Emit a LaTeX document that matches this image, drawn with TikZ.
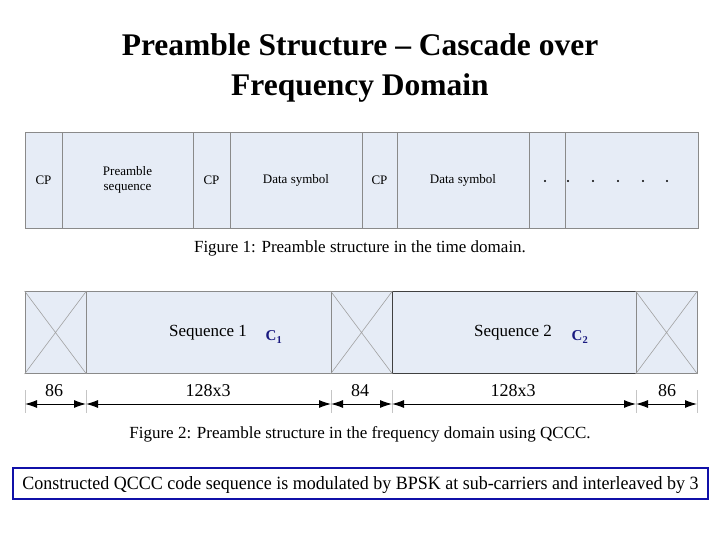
\documentclass[tikz,border=0pt]{standalone}
\usepackage{fontspec}
\setmainfont{Liberation Serif}
\usetikzlibrary{arrows.meta}
\definecolor{cellfill}{HTML}{E6ECF6}
\definecolor{cellline}{HTML}{8A8A8A}
\definecolor{navy}{HTML}{1A1A80}
\definecolor{boxblue}{HTML}{1010A8}
\tikzset{
  cell/.style={draw=cellline, fill=cellfill, line width=0.8pt, inner sep=0pt, font=\fontsize{13}{15}\selectfont},
  xline/.style={draw=cellline!80, line width=0.6pt},
  tick/.style={draw=cellline!50, line width=0.8pt},
  dim/.style={line width=1pt, {Latex[length=12pt,width=8pt]}-{Latex[length=12pt,width=8pt]}},
  dimlabel/.style={font=\fontsize{18}{20}\selectfont, inner sep=0pt},
  caption/.style={font=\fontsize{17}{19}\selectfont, inner sep=0pt},
  seqlabel/.style={font=\fontsize{17}{19}\selectfont, inner sep=0pt},
  clabel/.style={font=\fontsize{15}{17}\selectfont\bfseries, text=navy, inner sep=0pt},
  titlestyle/.style={font=\fontsize{31.5}{36}\selectfont\bfseries, inner sep=0pt, anchor=base},
  dotmark/.style={circle, fill=black, inner sep=0pt, minimum size=2.4pt},
}
\begin{document}
\begin{tikzpicture}[x=1pt,y=-1pt]
\useasboundingbox (0,0) rectangle (720,540);
% Title
\node[titlestyle] (title1) at (360,56) {Preamble Structure -- Cascade over};
\node[titlestyle] (title2) at (360,96) {Frequency Domain};

% Time domain figure
\node[cell, minimum width=37pt, minimum height=96pt] (cpa) at (43.5,180) {CP};
\node[cell, minimum width=131pt, minimum height=96pt, align=center] (pre) at (127.5,180) {Preamble\\sequence};
\node[cell, minimum width=37pt, minimum height=96pt] (cpb) at (211.5,180) {CP};
\node[cell, minimum width=132pt, minimum height=96pt] (data1) at (296,180) {Data symbol};
\node[cell, minimum width=35pt, minimum height=96pt] (cpc) at (379.5,180) {CP};
\node[cell, minimum width=132pt, minimum height=96pt] (data2) at (463,180) {Data symbol};
\node[cell, minimum width=36pt, minimum height=96pt] (gap) at (547,180) {};
\node[cell, minimum width=133pt, minimum height=96pt] (rest) at (631.5,180) {};
\node[dotmark] (d0) at (545,181) {};
\node[dotmark] (d1) at (568,181) {};
\node[dotmark] (d2) at (593,181) {};
\node[dotmark] (d3) at (618,181) {};
\node[dotmark] (d4) at (643,181) {};
\node[dotmark] (d5) at (667,181) {};
\node[caption, anchor=base] (cap1) at (360,252) {Figure 1: Preamble structure in the time domain.};

% Frequency domain figure
\node[cell, minimum width=61pt, minimum height=82pt] (xa) at (55.5,332.5) {};
\node[cell, minimum width=245pt, minimum height=82pt] (seq1) at (208.5,332.5) {};
\node[cell, minimum width=61pt, minimum height=82pt] (xb) at (361.5,332.5) {};
\node[cell, draw=black!75, minimum width=244pt, minimum height=82pt] (seq2) at (514,332.5) {};
\node[cell, minimum width=61pt, minimum height=82pt] (xc) at (666.5,332.5) {};
\foreach \b in {xa,xb,xc}{
  \draw[xline] (\b.north west) -- (\b.south east) (\b.north east) -- (\b.south west);
}
\node[seqlabel] (s1) at (208,333) {Sequence 1};
\node[clabel] (c1) at (274,337) {C$_{\mathbf{1}}$};
\node[seqlabel] (s2) at (513,333) {Sequence 2};
\node[clabel] (c2) at (580,337) {C$_{\mathbf{2}}$};

% dimension ticks and arrows
\foreach \n/\x in {t0/25,t1/86,t2/331,t3/392,t4/636,t5/697}{
  \coordinate (\n top) at (\x,390);
  \coordinate (\n bot) at (\x,413);
  \coordinate (\n) at (\x,404);
  \draw[tick] (\n top) -- (\n bot);
}
\draw[dim] (t0) -- (t1);
\draw[dim] (t1) -- (t2);
\draw[dim] (t2) -- (t3);
\draw[dim] (t3) -- (t4);
\draw[dim] (t4) -- (t5);
\node[dimlabel] (l0) at (54,391) {86};
\node[dimlabel] (l1) at (208,391) {128x3};
\node[dimlabel] (l2) at (360,391) {84};
\node[dimlabel] (l3) at (513,391) {128x3};
\node[dimlabel] (l4) at (667,391) {86};
\node[caption, anchor=base] (cap2) at (360,438) {Figure 2: Preamble structure in the frequency domain using QCCC.};

% Bottom note
\node[draw=boxblue, line width=2.8pt, minimum width=695pt, minimum height=31pt, inner sep=0pt] (note) at (360.5,483.5)
  {\raisebox{-5.5pt}[0pt][0pt]{\resizebox{676pt}{13pt}{\fontsize{18}{20}\selectfont Constructed QCCC code sequence is modulated by BPSK at sub-carriers and interleaved by 3}}};
\end{tikzpicture}
\end{document}
